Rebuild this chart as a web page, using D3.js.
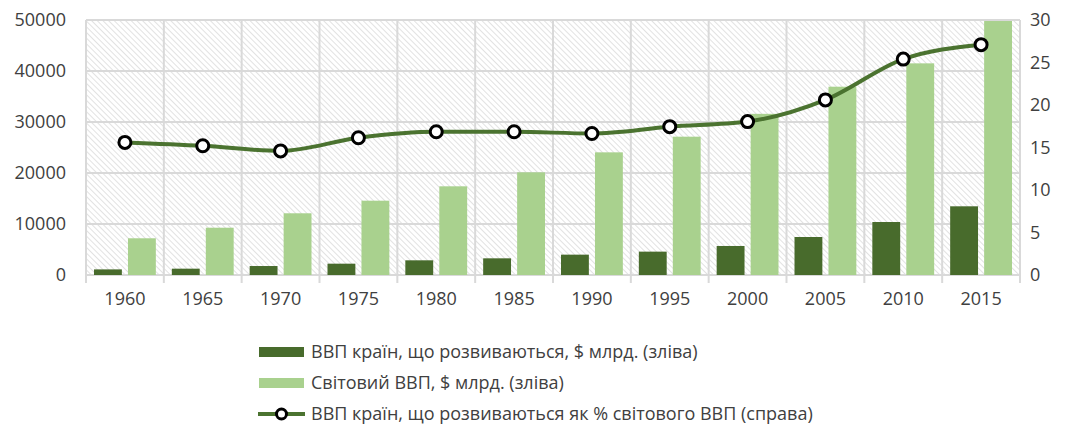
<!DOCTYPE html>
<html>
<head>
<meta charset="utf-8">
<script src="https://d3js.org/d3.v7.min.js"></script>
<style>
  body { margin: 0; background: #fff; }
  text { font-family: "Open Sans", "Noto Sans", sans-serif; fill: #404040; }
</style>
</head>
<body>
<div id="chart"></div>
<script>
// data
var years = ["1960","1965","1970","1975","1980","1985","1990","1995","2000","2005","2010","2015"];
var developingGdp = [1100, 1240, 1760, 2220, 2880, 3270, 3990, 4580, 5690, 7450, 10390, 13470];
var worldGdp = [7200, 9270, 12100, 14570, 17390, 20130, 24050, 27120, 31600, 36920, 41500, 49800];
var sharePct = [15.6, 15.2, 14.6, 16.15, 16.85, 16.85, 16.65, 17.45, 18.05, 20.6, 25.4, 27.1];
var leftTicks = [0, 10000, 20000, 30000, 40000, 50000];
var rightTicks = [0, 5, 10, 15, 20, 25, 30];
var legendLabels = [
  "ВВП країн, що розвиваються, $ млрд. (зліва)",
  "Світовий ВВП, $ млрд. (зліва)",
  "ВВП країн, що розвиваються як % світового ВВП (справа)"
];

var W = 1065, H = 427;
var margin = {top: 20, right: 45, bottom: 152, left: 86};
var width = W - margin.left - margin.right,
    height = H - margin.top - margin.bottom;

var darkCol = "#486b2c", lightCol = "#a9d18e", lineCol = "#4b7330", gridCol = "#d9d9d9";

var svg = d3.select("#chart").append("svg")
  .attr("width", W).attr("height", H);

// hatch pattern for plot background
var defs = svg.append("defs");
var pat = defs.append("pattern")
  .attr("id", "hatch")
  .attr("width", 4).attr("height", 4)
  .attr("patternUnits", "userSpaceOnUse")
  .attr("patternTransform", "rotate(45)");
pat.append("rect").attr("width", 4).attr("height", 4).attr("fill", "#ffffff");
pat.append("line").attr("x1", 0).attr("y1", 0).attr("x2", 4).attr("y2", 0)
  .attr("stroke", "#d6d6d6").attr("stroke-width", 1.4);

var g = svg.append("g").attr("transform", "translate(" + margin.left + "," + margin.top + ")");

var x = d3.scaleBand().domain(years).range([0, width]).padding(0);
var xi = d3.scaleBand().domain(["dev", "world"]).range([8, x.bandwidth() - 8]).paddingInner(0.18);
var yL = d3.scaleLinear().domain([0, 50000]).range([height, 0]);
var yR = d3.scaleLinear().domain([0, 30]).range([height, 0]);

g.append("rect").attr("width", width).attr("height", height).attr("fill", "url(#hatch)");

// gridlines
g.selectAll(".hg").data(leftTicks).enter().append("line")
  .attr("x1", 0).attr("x2", width)
  .attr("y1", function(d) { return yL(d); }).attr("y2", function(d) { return yL(d); })
  .attr("stroke", gridCol).attr("stroke-width", 2);
var bounds = years.map(function(d) { return x(d); }).concat([width]);
g.selectAll(".vg").data(bounds).enter().append("line")
  .attr("x1", function(d) { return d; }).attr("x2", function(d) { return d; })
  .attr("y1", 0).attr("y2", height + 8)
  .attr("stroke", gridCol).attr("stroke-width", 2);

// bars
var rows = years.map(function(y, i) { return {year: y, dev: developingGdp[i], world: worldGdp[i], pct: sharePct[i]}; });
g.selectAll(".bd").data(rows).enter().append("rect")
  .attr("x", function(d) { return x(d.year) + xi("dev"); })
  .attr("width", xi.bandwidth())
  .attr("y", function(d) { return yL(d.dev); })
  .attr("height", function(d) { return height - yL(d.dev); })
  .attr("fill", darkCol);
g.selectAll(".bw").data(rows).enter().append("rect")
  .attr("x", function(d) { return x(d.year) + xi("world"); })
  .attr("width", xi.bandwidth())
  .attr("y", function(d) { return yL(d.world); })
  .attr("height", function(d) { return height - yL(d.world); })
  .attr("fill", lightCol);

// line on right axis
var line = d3.line()
  .x(function(d) { return x(d.year) + x.bandwidth() / 2; })
  .y(function(d) { return yR(d.pct); })
  .curve(d3.curveMonotoneX);
g.append("path").datum(rows).attr("d", line)
  .attr("fill", "none").attr("stroke", lineCol).attr("stroke-width", 4);
g.selectAll(".pt").data(rows).enter().append("circle")
  .attr("cx", function(d) { return x(d.year) + x.bandwidth() / 2; })
  .attr("cy", function(d) { return yR(d.pct); })
  .attr("r", 6).attr("fill", "#fff").attr("stroke", "#000").attr("stroke-width", 3);

// axes
var axL = g.append("g").call(d3.axisLeft(yL).tickValues(leftTicks).tickFormat(d3.format("d")).tickSize(0).tickPadding(20));
var axR = g.append("g").attr("transform", "translate(" + width + ",0)")
  .call(d3.axisRight(yR).tickValues(rightTicks).tickSize(0).tickPadding(10));
var axB = g.append("g").attr("transform", "translate(0," + height + ")")
  .call(d3.axisBottom(x).tickSize(0).tickPadding(17));
[axL, axR, axB].forEach(function(a) {
  a.select(".domain").remove();
  a.selectAll("text").style("font-size", "18px").attr("fill", "#404040");
});

// legend
var leg = svg.append("g").attr("transform", "translate(258,352)");
legendLabels.forEach(function(lbl, i) {
  var row = leg.append("g").attr("transform", "translate(0," + (i * 31) + ")");
  if (i < 2) {
    row.append("rect").attr("x", 1).attr("y", -5).attr("width", 45).attr("height", 10)
      .attr("fill", i === 0 ? darkCol : lightCol);
  } else {
    row.append("line").attr("x1", 0).attr("x2", 47).attr("y1", 0).attr("y2", 0)
      .attr("stroke", lineCol).attr("stroke-width", 4);
    row.append("circle").attr("cx", 23.5).attr("cy", 0).attr("r", 5)
      .attr("fill", "#fff").attr("stroke", "#000").attr("stroke-width", 3);
  }
  row.append("text").attr("x", 53).attr("y", 0).attr("dy", "0.35em")
    .style("font-size", "18px").text(lbl);
});
</script>
</body>
</html>
